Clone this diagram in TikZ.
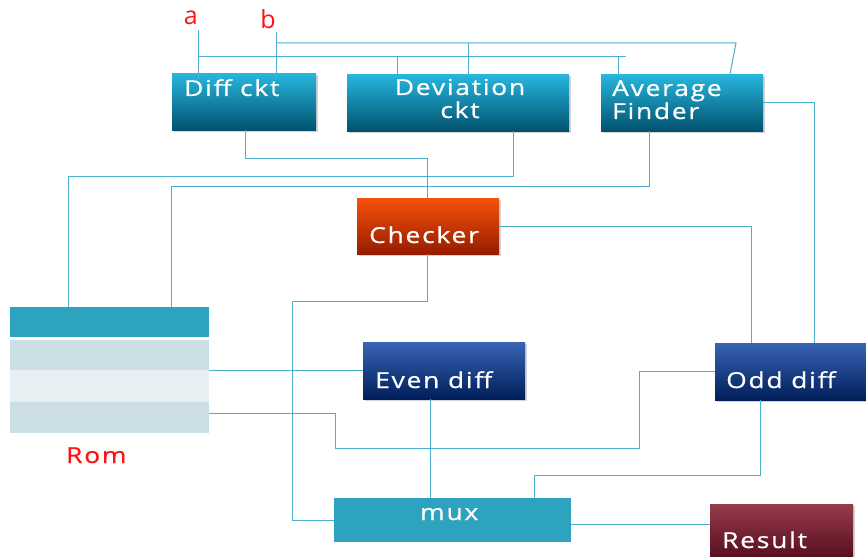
\documentclass[tikz,border=0pt]{standalone}
\usepackage{fontspec}
\setmainfont{Open Sans}
\newfontfamily\blockfont[FakeStretch=1.2,LetterSpace=8,FakeBold=0.6]{Open Sans}
\usetikzlibrary{shadows}

\definecolor{wire}{RGB}{75,175,205}
\definecolor{tealtop}{RGB}{40,182,222}
\definecolor{tealbot}{RGB}{0,82,110}
\definecolor{chktop}{RGB}{246,82,10}
\definecolor{chkbot}{RGB}{150,28,0}
\definecolor{diftop}{RGB}{55,100,180}
\definecolor{difbot}{RGB}{0,30,90}
\definecolor{restop}{RGB}{150,60,75}
\definecolor{resbot}{RGB}{80,8,25}
\definecolor{romdark}{RGB}{45,163,191}
\definecolor{romlight}{RGB}{205,223,230}
\definecolor{rompale}{RGB}{232,239,242}
\definecolor{sigred}{RGB}{250,20,20}

\begin{document}
\begin{tikzpicture}[x=1pt,y=-1pt,
    blk/.style={anchor=north west,inner sep=0pt,
        drop shadow={opacity=0.35,shadow xshift=1.5pt,shadow yshift=-2pt}},
    tealblk/.style={blk,top color=tealtop,bottom color=tealbot},
    chkblk/.style={blk,top color=chktop,bottom color=chkbot},
    difblk/.style={blk,top color=diftop,bottom color=difbot},
    resblk/.style={blk,top color=restop,bottom color=resbot},
    rombar/.style={anchor=north west,inner sep=0pt,minimum width=199pt},
    lbl/.style={text=white,inner sep=0pt,align=left,
        font=\blockfont\fontsize{22}{23}\selectfont},
    sig/.style={text=sigred,inner sep=0pt,font=\fontsize{25}{26}\selectfont},
    wire/.style={draw=wire,line width=1pt}]
    \useasboundingbox (0,0) rectangle (866,556);

    % blocks
    \node[tealblk,minimum width=144pt,minimum height=57pt] at (172,73)(diff){};
    \node[tealblk,minimum width=222pt,minimum height=57pt] at (347,74)(dev){};
    \node[tealblk,minimum width=162pt,minimum height=57pt] at (601,74)(avg){};
    \node[chkblk,minimum width=142pt,minimum height=56pt] at (357,198)(chk){};
    \node[difblk,minimum width=162pt,minimum height=57pt] at (363,342)(even){};
    \node[difblk,minimum width=160pt,minimum height=57pt] at (715,343)(odd){};
    \node[anchor=north west,inner sep=0pt,fill=romdark,
        minimum width=237pt,minimum height=44pt] at (334,498)(mux){};
    \node[resblk,minimum width=143pt,minimum height=60pt] at (710,504)(res){};

    % rom
    \node[rombar,fill=romdark,minimum height=30pt] at (10,307)(rom1){};
    \node[rombar,fill=romlight,minimum height=30pt] at (10,340)(rom2){};
    \node[rombar,fill=rompale,minimum height=32pt] at (10,370)(rom3){};
    \node[rombar,fill=romlight,minimum height=31pt] at (10,402)(rom4){};

    % texts
    \node[lbl,anchor=base west] at (184,96)(difftxt){Diff ckt};
    \node[lbl,anchor=base,align=center] at (460,118)(devtxt){Deviation\\ckt};
    \node[lbl,anchor=base west] at (612,119)(avgtxt){Average\\Finder};
    \node[lbl,anchor=base west] at (369,243)(chktxt){Checker};
    \node[lbl,anchor=base west] at (375,388)(eventxt){Even diff};
    \node[lbl,anchor=base west] at (726,388)(oddtxt){Odd diff};
    \node[lbl,anchor=base west] at (420,520)(muxtxt){mux};
    \node[lbl,anchor=base west] at (722,548)(restxt){Result};
    \node[lbl,anchor=base west,text=sigred] at (66,463)(romtxt){Rom};
    \node[sig,anchor=base east] at (198,25)(a){a};
    \node[sig,anchor=base east] at (276,29)(b){b};

    \coordinate (abus) at (198,57);
    \coordinate (bbus) at (277,43);
    \coordinate (romturn) at (335,448);

    % inputs
    \draw[wire] ([yshift=-5pt]a.base east) -- ([yshift=-5pt]a.base east |- diff.north);
    \draw[wire] ([yshift=-3pt]b.base east) -- ([yshift=-3pt]b.base east |- diff.north);
    \draw[wire] (abus) -- ([xshift=25pt]avg.north west |- abus);
    \draw[wire] ([xshift=50pt]dev.north west) -- ([xshift=50pt]dev.north west |- abus);
    \draw[wire] ([xshift=17pt]avg.north west) -- ([xshift=17pt]avg.north west |- abus);
    \draw[wire] (bbus) -- ([xshift=135pt]avg.north west |- bbus)
        -- ([xshift=129pt]avg.north west);
    \draw[wire] ([xshift=121pt]dev.north west) -- ([xshift=121pt]dev.north west |- bbus);

    % links
    \draw[wire] ([xshift=73pt]diff.south west) -- ++(0,28) -| ([xshift=70pt]chk.north west);
    \draw[wire] ([xshift=166pt]dev.south west) -- ++(0,45) -| ([xshift=58pt]rom1.north west);
    \draw[wire] ([xshift=48pt]avg.south west) -- ++(0,55) -| ([xshift=161pt]rom1.north west);
    \draw[wire] ([xshift=70pt]chk.south west) -- ++(0,47) -- ++(-135,0) |- (mux.west);
    \draw[wire] (chk.east) -| ([xshift=36pt]odd.north west);
    \draw[wire] (avg.east) -| ([xshift=99pt]odd.north west);
    \draw[wire] (rom3.north east) -- (rom3.north east -| even.west);
    \draw[wire] ([yshift=4pt]rom4.east) -| (romturn) -| ([xshift=-76pt]odd.west) -- (odd.west);
    \draw[wire] ([xshift=67pt]even.south west) -- ([xshift=67pt]even.south west |- mux.north);
    \draw[wire] ([xshift=45pt]odd.south west) -- ++(0,75) -| ([xshift=200pt]mux.north west);
    \draw[wire] ([yshift=-4pt]mux.east) -- ([yshift=-4pt]mux.east -| res.west);
\end{tikzpicture}
\end{document}
